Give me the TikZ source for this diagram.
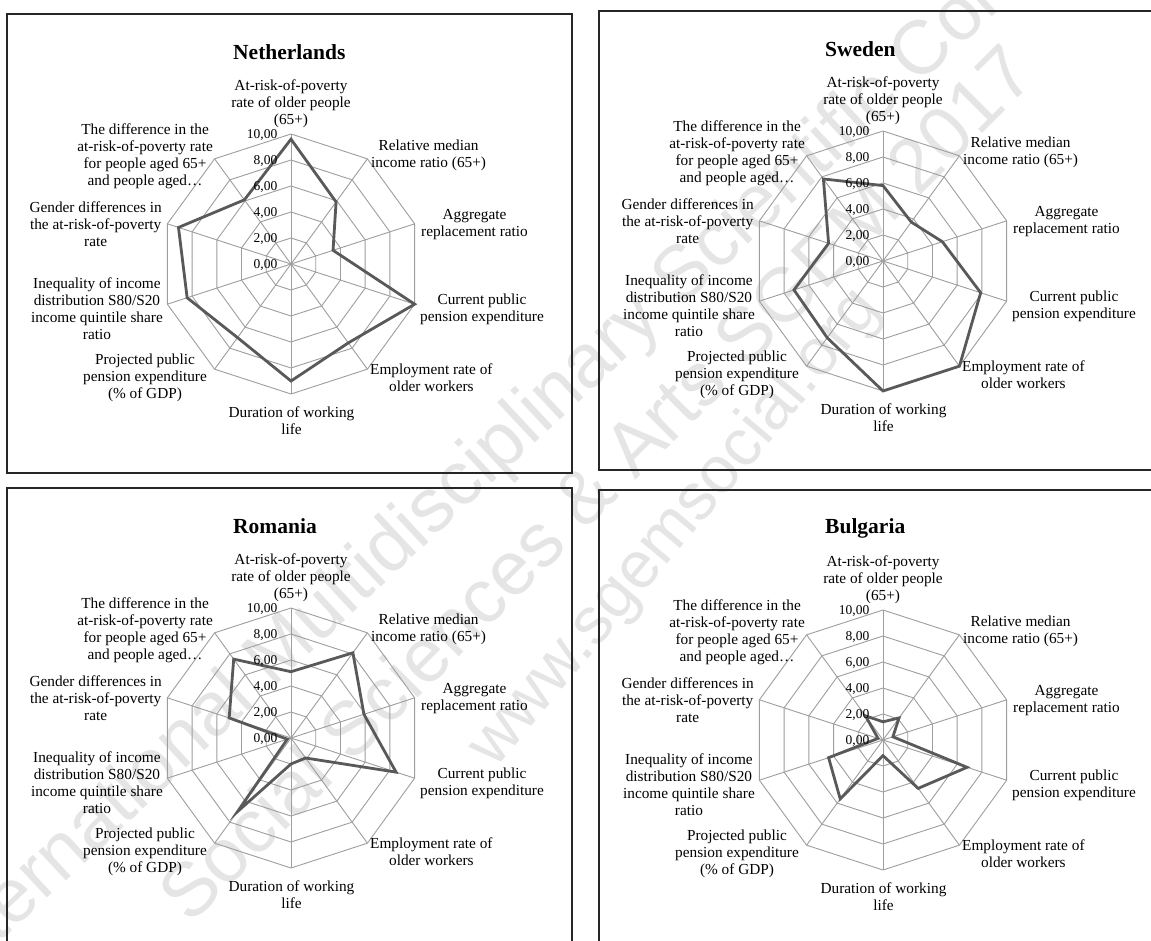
\documentclass[tikz,border=0pt]{standalone}
\usepackage{fontspec}
\setmainfont{Liberation Serif}
\setsansfont{Liberation Sans}

\tikzset{
  panelframe/.style={draw=black!85, line width=1.2pt},
  gridline/.style={draw=black!38, line width=0.9pt},
  series/.style={draw=black!65, line width=2.8pt, line join=miter},
  axislabel/.style={font=\fontsize{15.3}{17}\selectfont, align=center, inner sep=0pt},
  ticklabel/.style={font=\fontsize{13.5}{15}\selectfont, inner sep=0pt, anchor=east},
  charttitle/.style={font=\bfseries\fontsize{21.5}{24}\selectfont, inner sep=0pt, anchor=west},
  watermark/.style={text=black!10, font=\sffamily\fontsize{76}{78}\selectfont, inner sep=0pt, anchor=base west}
}

% #1,#2: top-left corner of the chart frame; #3: name prefix; #4: title; #5: ten values (0..10)
\newcommand\radarchart[5]{%
\begin{scope}[shift={(#1,#2)}]
  \draw[panelframe] (0,0) rectangle (565,459);
  \node[charttitle] (#3-title) at (226,38) {#4};
  \begin{scope}[shift={(284,250)}]
    \coordinate (#3-c) at (0,0);
    \foreach \i in {0,...,9}
      \coordinate (#3-v\i) at ({130*cos(90-36*\i)},{-130*sin(90-36*\i)});
    \foreach \k in {1,...,5}
      \draw[gridline] (0,{-26*\k})
        \foreach \i in {1,...,9}{ -- ({26*\k*cos(90-36*\i)},{-26*\k*sin(90-36*\i)}) } -- cycle;
    \foreach \i in {0,...,9}
      \draw[gridline] (#3-c) -- (#3-v\i);
    \foreach \v [count=\i from 0] in {#5}
      \coordinate (#3-d\i) at ({13*\v*cos(90-36*\i)},{-13*\v*sin(90-36*\i)});
    \draw[series] (#3-d0) \foreach \i in {1,...,9}{ -- (#3-d\i) } -- cycle;
    \foreach \k in {0,2,...,10}
      \node[ticklabel] (#3-t\k) at (-13.5,{1.5-13*\k}) {\k,00};
    \node[axislabel] (#3-l0) at (0,-160) {At-risk-of-poverty\\rate of older people\\(65+)};
    \node[axislabel, anchor=west] (#3-l1) at (80,-108.5) {Relative median\\income ratio (65+)};
    \node[axislabel, anchor=west] (#3-l2) at (130,-39.5) {Aggregate\\replacement ratio};
    \node[axislabel, anchor=west] (#3-l3) at (129,45) {Current public\\pension expenditure};
    \node[axislabel, anchor=west] (#3-l4) at (79,114) {Employment rate of\\older workers};
    \node[axislabel] (#3-l5) at (0.5,157) {Duration of working\\life};
    \node[axislabel, anchor=east] (#3-l6) at (-84,113.5) {Projected public\\pension expenditure\\(\% of GDP)};
    \node[axislabel, anchor=east] (#3-l7) at (-128,44.5) {Inequality of income\\distribution S80/S20\\income quintile share\\ratio};
    \node[axislabel, anchor=east] (#3-l8) at (-129,-40) {Gender differences in\\the at-risk-of-poverty\\rate};
    \node[axislabel, anchor=east] (#3-l9) at (-78,-108) {The difference in the\\at-risk-of-poverty rate\\for people aged 65+\\and people aged…};
  \end{scope}
\end{scope}}

\begin{document}
\begin{tikzpicture}[x=1pt,y=-1pt]
  \useasboundingbox (0,0) rectangle (1151,941);
  \clip (0,0) rectangle (1151,941);
  \fill[white] (0,0) rectangle (1151,941);

  % faint diagonal conference imprint behind the charts
  \node[watermark, rotate=43] (wm1) at (-49,988)
    {International Multidisciplinary Scientific Conference on};
  \node[watermark, rotate=45] (wm2) at (190,926)
    {Social Sciences \& Arts SGEM 2017};
  \node[watermark, rotate=50, font=\sffamily\fontsize{66}{68}\selectfont] (wm3) at (495,770)
    {www.sgemsocial.org};

  \radarchart{7}{14}{nl}{Netherlands}{9.6,5.9,3.4,10.0,7.5,9.0,7.0,8.4,9.1,6.1}
  \radarchart{599}{11}{se}{Sweden}{5.8,3.7,4.8,7.9,10.0,10.0,7.3,7.2,4.4,7.8}
  \radarchart{7}{488}{ro}{Romania}{5.1,8.1,5.9,8.5,1.9,2.0,7.0,0.3,5.0,7.5}
  \radarchart{599}{490}{bg}{Bulgaria}{1.4,2.1,0.8,6.8,4.6,1.2,5.6,4.4,0.4,2.3}
\end{tikzpicture}
\end{document}
